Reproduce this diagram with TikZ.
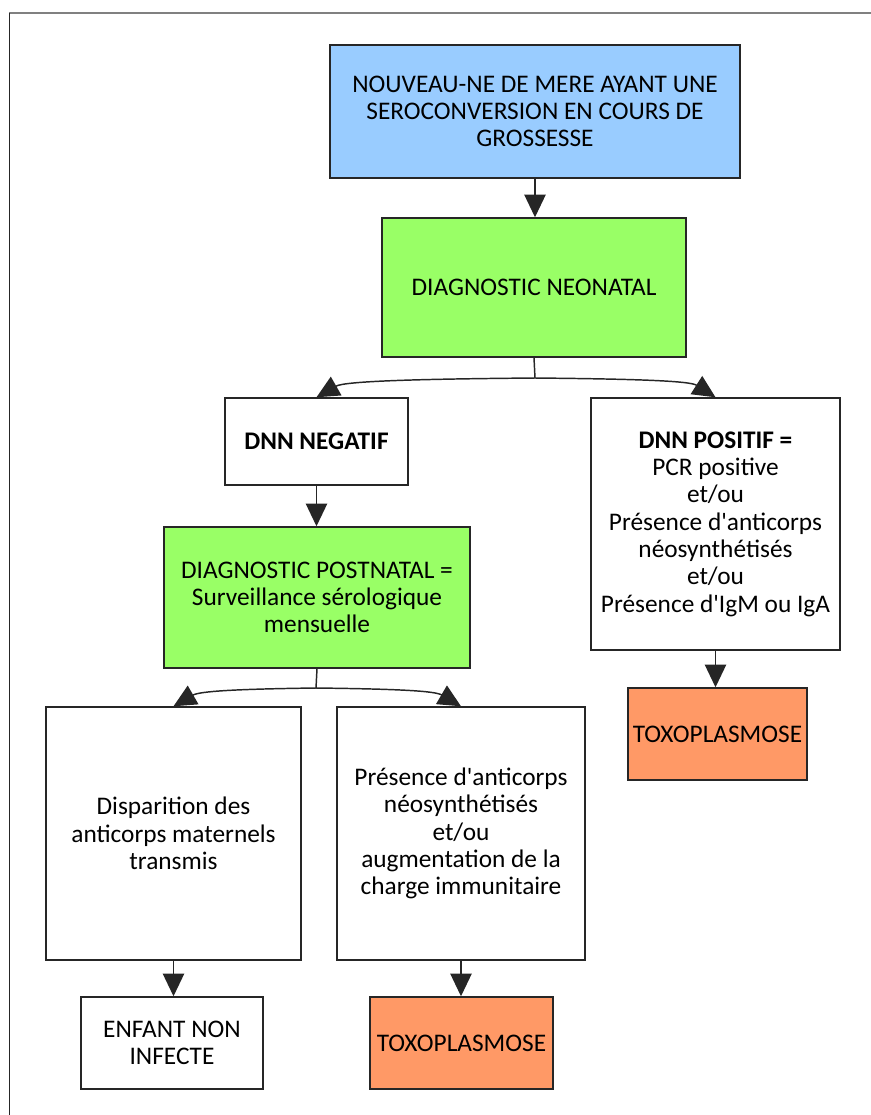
\documentclass[tikz,border=0pt]{standalone}
\usepackage{fontspec}
\setmainfont{Carlito}[Ligatures=TeXOff]
\usetikzlibrary{arrows.meta}

\definecolor{bleu}{HTML}{99CCFF}
\definecolor{vert}{HTML}{99FF66}
\definecolor{saumon}{HTML}{FF9966}
\definecolor{trait}{HTML}{262626}

\tikzset{
  boite/.style={draw=trait, line width=1.1pt, align=center, inner sep=2pt,
    font=\fontsize{19}{20.5}\selectfont},
  fleche/.style={draw=trait, line width=1.1pt,
    -{Triangle[length=17pt,width=16pt]}},
}

\begin{document}
\begin{tikzpicture}[x=0.75pt,y=-0.75pt]
  \useasboundingbox (0,0) rectangle (871,1115);

  % Frame
  \draw[gray, line width=1.6pt] (9,13) -- (871,13);
  \draw[trait, line width=0.6pt] (9,13) -- (9,1115);

  % Boxes
  \node[boite, fill=bleu, minimum width=307.5pt, minimum height=99.75pt]
    (mere) at (535,111.5)
    {NOUVEAU-NE DE MERE AYANT UNE\\SEROCONVERSION EN COURS DE\\GROSSESSE};
  \node[boite, fill=vert, minimum width=228pt, minimum height=104.25pt]
    (neonatal) at (534,287.5) {DIAGNOSTIC NEONATAL};
  \node[boite, minimum width=137.25pt, minimum height=65.25pt]
    (negatif) at (316.5,441.5) {\bfseries DNN NEGATIF};
  \node[boite, minimum width=186.75pt, minimum height=189pt]
    (positif) at (715.5,524)
    {\textbf{DNN POSITIF =}\\PCR positive\\et/ou\\Présence d'anticorps\\néosynthétisés\\et/ou\\Présence d'IgM ou IgA};
  \node[boite, fill=vert, minimum width=229.5pt, minimum height=105.75pt]
    (postnatal) at (317,597.5)
    {DIAGNOSTIC POSTNATAL =\\Surveillance sérologique\\mensuelle};
  \node[boite, minimum width=191.25pt, minimum height=189.75pt]
    (disparition) at (173.5,833.5)
    {Disparition des\\anticorps maternels\\transmis};
  \node[boite, minimum width=186pt, minimum height=189.75pt]
    (presence) at (461,833.5)
    {Présence d'anticorps\\néosynthétisés\\et/ou\\augmentation de la\\charge immunitaire};
  \node[boite, minimum width=136.5pt, minimum height=69pt]
    (enfant) at (172,1043) {ENFANT NON\\INFECTE};
  \node[boite, fill=saumon, minimum width=137.25pt, minimum height=69pt]
    (toxoA) at (461.5,1043) {TOXOPLASMOSE};
  \node[boite, fill=saumon, minimum width=134.25pt, minimum height=69pt]
    (toxoB) at (717.5,734) {TOXOPLASMOSE};

  % Straight arrows
  \draw[fleche] (mere.south) -- (mere.south |- neonatal.north);
  \draw[fleche] (negatif.south) -- (negatif.south |- postnatal.north);
  \draw[fleche] (positif.south) -- (positif.south |- toxoB.north);
  \draw[fleche] (disparition.south) -- (disparition.south |- enfant.north);
  \draw[fleche] (presence.south) -- (presence.south |- toxoA.north);

  % Branches
  \coordinate (j1) at (535,378);
  \coordinate (j2) at (316,688);
  \draw[draw=trait, line width=1.1pt] (neonatal.south) -- (j1);
  \draw[fleche] (j1) .. controls (420,379) and (345,381) .. (negatif.north);
  \draw[fleche] (j1) .. controls (640,379) and (690,381) .. (positif.north);
  \draw[draw=trait, line width=1.1pt] (postnatal.south) -- (j2);
  \draw[fleche] (j2) .. controls (240,689) and (200,691) .. (disparition.north);
  \draw[fleche] (j2) .. controls (400,689) and (435,691) .. (presence.north);

\end{tikzpicture}
\end{document}
